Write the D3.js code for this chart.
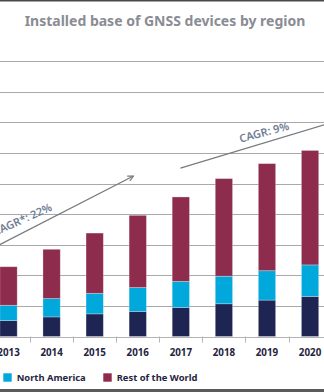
<!DOCTYPE html>
<html>
<head>
<meta charset="utf-8">
<script src="https://cdn.jsdelivr.net/npm/d3@7"></script>
<style>
  html, body { margin: 0; padding: 0; background: #fff; }
  svg { display: block; font-family: 'Noto Sans', sans-serif; }
</style>
</head>
<body>
<div id="chart"></div>
<script>
// data (billions of devices)
const years = ['2013', '2014', '2015', '2016', '2017', '2018', '2019', '2020']
// bottom series: its legend entry sits off the left edge of the crop
const europe = [0.52, 0.64, 0.74, 0.82, 0.95, 1.07, 1.19, 1.31]
const northAmerica = [0.5, 0.6, 0.67, 0.78, 0.85, 0.9, 0.96, 1.03]
const restOfWorld = [1.26, 1.61, 1.97, 2.36, 2.76, 3.19, 3.5, 3.74]
const yTicks = [0, 1, 2, 3, 4, 5, 6, 7, 8, 9]

const seriesNames = ['Europe', 'North America', 'Rest of the World']
const legendNames = ['North America', 'Rest of the World']
const cagrLabels = ['CAGR*: 22%', 'CAGR: 9%']

const colors = {
  'Europe': '#1f2552',
  'North America': '#00a8dc',
  'Rest of the World': '#8d2c4d',
}

const width = 324
const height = 392

const svg = d3
  .select('#chart')
  .append('svg')
  .attr('width', width)
  .attr('height', height)

// frame lines of the cropped page
svg.append('rect').attr('x', 0).attr('y', 0).attr('width', width).attr('height', 1.5).attr('fill', '#4a4a4a')
svg.append('rect').attr('x', 0).attr('y', 389).attr('width', width).attr('height', 3).attr('fill', '#5a5a5a')

svg
  .append('text')
  .attr('x', 165)
  .attr('y', 25.5)
  .attr('text-anchor', 'middle')
  .attr('font-size', 14)
  .attr('font-weight', 700)
  .attr('fill', '#8a8c94')
  .text('Installed base of GNSS devices by region')

// the plot runs past both edges of the crop
const x = d3.scaleBand().domain(years).range([-13, 331.6]).padding(0)
const y = d3.scaleLinear().domain([0, 9]).range([336.5, 61.1])
const barWidth = 17.3

// fractional year index -> pixel, for the CAGR annotations
const xAt = i => x(years[0]) + x.step() / 2 + i * x.step()

svg
  .append('g')
  .selectAll('line')
  .data(yTicks)
  .join('line')
  .attr('x1', 0)
  .attr('x2', width)
  .attr('y1', d => Math.round(y(d)) + 0.5)
  .attr('y2', d => Math.round(y(d)) + 0.5)
  .attr('stroke', d => (d === 0 ? '#b4b4b4' : '#a9a9a9'))
  .attr('stroke-width', 1.2)

// ticks between categories under the baseline
svg
  .append('g')
  .selectAll('line')
  .data(years.slice(1))
  .join('line')
  .attr('x1', d => Math.round(x(d)) + 0.5)
  .attr('x2', d => Math.round(x(d)) + 0.5)
  .attr('y1', y(0))
  .attr('y2', y(0) + 6)
  .attr('stroke', '#b4b4b4')
  .attr('stroke-width', 1)

const table = years.map((year, i) => ({
  year,
  'Europe': europe[i],
  'North America': northAmerica[i],
  'Rest of the World': restOfWorld[i],
}))

const stacked = d3.stack().keys(seriesNames)(table)

svg
  .append('g')
  .selectAll('g')
  .data(stacked)
  .join('g')
  .attr('fill', d => colors[d.key])
  .selectAll('rect')
  .data(d => d)
  .join('rect')
  .attr('x', d => x(d.data.year) + (x.step() - barWidth) / 2)
  .attr('width', barWidth)
  .attr('y', d => y(d[1]))
  .attr('height', d => y(d[0]) - y(d[1]))
  .attr('stroke', '#fff')
  .attr('stroke-opacity', 0.35)
  .attr('stroke-width', 0.8)

svg
  .append('g')
  .selectAll('text')
  .data(years)
  .join('text')
  .attr('x', d => x(d) + x.step() / 2)
  .attr('y', 356)
  .attr('text-anchor', 'middle')
  .attr('font-size', 9.8)
  .attr('font-weight', 700)
  .attr('fill', '#1f2440')
  .text(d => d)

// CAGR arrows, endpoints in (year index, value)
const arrows = [
  { from: [-1.5, 2.07], to: [2.9, 5.245], head: true },
  { from: [3.99, 5.5], to: [7.81, 7.12], head: false },
]

svg
  .append('defs')
  .append('marker')
  .attr('id', 'arrowhead')
  .attr('viewBox', '0 0 10 10')
  .attr('refX', 9)
  .attr('refY', 5)
  .attr('markerWidth', 7)
  .attr('markerHeight', 7)
  .attr('markerUnits', 'userSpaceOnUse')
  .attr('orient', 'auto')
  .append('path')
  .attr('d', 'M1,1 L9,5 L1,9')
  .attr('fill', 'none')
  .attr('stroke', '#777a80')
  .attr('stroke-width', 1.6)

svg
  .append('g')
  .selectAll('line')
  .data(arrows)
  .join('line')
  .attr('x1', d => xAt(d.from[0]))
  .attr('y1', d => y(d.from[1]))
  .attr('x2', d => xAt(d.to[0]))
  .attr('y2', d => y(d.to[1]))
  .attr('stroke', '#777a80')
  .attr('stroke-width', 1.3)
  .attr('marker-end', d => (d.head ? 'url(#arrowhead)' : null))

const labelSpots = [
  { at: [1.03, 4.13], angle: -24, anchor: 'end' },
  { at: [5.955, 6.55], angle: -15, anchor: 'middle' },
]

svg
  .append('g')
  .selectAll('text')
  .data(cagrLabels)
  .join('text')
  .attr('transform', (d, i) => {
    const s = labelSpots[i]
    return `translate(${xAt(s.at[0])},${y(s.at[1])}) rotate(${s.angle})`
  })
  .attr('text-anchor', (d, i) => labelSpots[i].anchor)
  .attr('font-size', 11)
  .attr('font-weight', 600)
  .attr('fill', '#6f7e93')
  .text(d => d)

// legend
const legendX = [3.3, 103.3]
const legend = svg
  .append('g')
  .selectAll('g')
  .data(legendNames)
  .join('g')
  .attr('transform', (d, i) => `translate(${legendX[i]},373.3)`)

legend
  .append('rect')
  .attr('width', 8.4)
  .attr('height', 8.4)
  .attr('fill', d => colors[d])

legend
  .append('text')
  .attr('x', 13.4)
  .attr('y', 7.8)
  .attr('font-size', 9.4)
  .attr('font-weight', 700)
  .attr('fill', '#1f2440')
  .text(d => d)
</script>
</body>
</html>
